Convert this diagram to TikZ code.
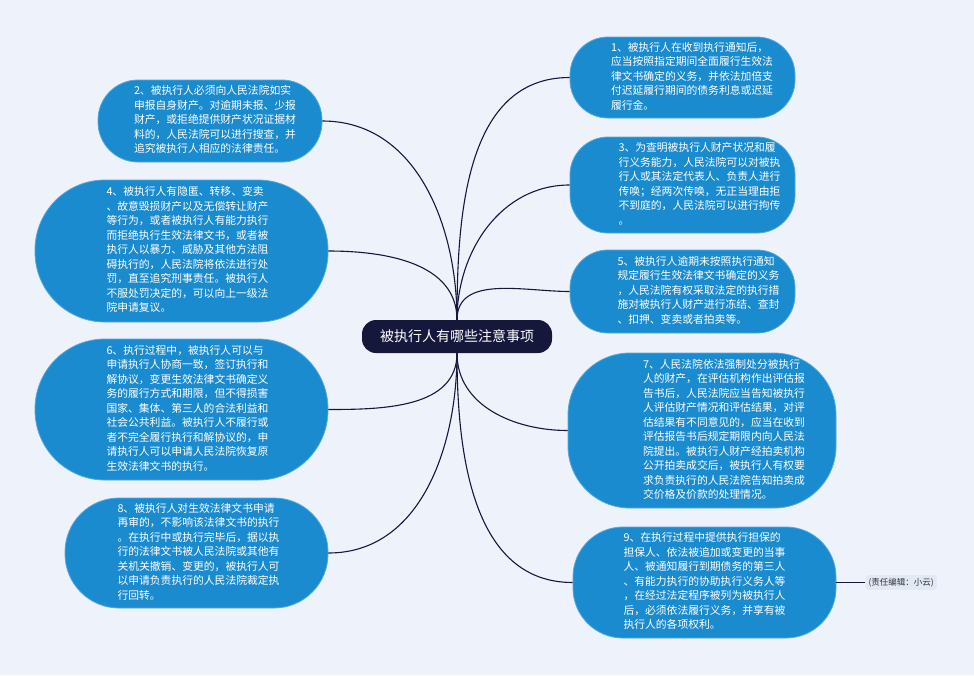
\documentclass[tikz,border=0pt]{standalone}
\usepackage{fontspec}
\setmainfont{Noto Sans CJK SC}
\usetikzlibrary{positioning}
\definecolor{bgblue}{HTML}{EEF3FB}
\definecolor{nodeblue}{HTML}{1B8BCF}
\definecolor{navy}{HTML}{15173B}
\definecolor{notebg}{HTML}{E2E9F5}
\newcommand{\ntext}[2][0pt]{\hspace*{#1}\begin{tabular}{@{}l@{}}#2\end{tabular}}

\begin{document}
\begin{tikzpicture}[x=1pt,y=-1pt,
      item/.style={draw=nodeblue!75!white, line width=0.8pt, fill=nodeblue, text=white,
        inner sep=0pt, font=\fontsize{10.8}{14.5}\selectfont},
      link/.style={draw=navy, line width=1.1pt}]
     \fill[bgblue] (0,0) rectangle (974,675);
     \node[fill=navy, text=white, rounded corners=14pt, minimum width=190pt, minimum height=33pt,
       font=\fontsize{14}{16}\selectfont] (hub) at (457,336.5) {被执行人有哪些注意事项};
     % left side
     \node[item, rounded corners=40pt, minimum width=224pt, minimum height=82pt] (duty2) at (210,121)
       {\ntext[10pt]{2、被执行人必须向人民法院如实\\申报自身财产。对逾期未报、少报\\财产，或拒绝提供财产状况证据材\\料的，人民法院可以进行搜查，并\\追究被执行人相应的法律责任。}};
     \node[item, rounded corners=70pt, minimum width=293pt, minimum height=142pt] (duty4) at (181.5,251)
       {\ntext[12pt]{4、被执行人有隐匿、转移、变卖\\、故意毁损财产以及无偿转让财产\\等行为，或者被执行人有能力执行\\而拒绝执行生效法律文书，或者被\\执行人以暴力、威胁及其他方法阻\\碍执行的，人民法院将依法进行处\\罚，直至追究刑事责任。被执行人\\不服处罚决定的，可以向上一级法\\院申请复议。}};
     \node[item, rounded corners=70pt, minimum width=293pt, minimum height=141pt] (duty6) at (181.5,409.5)
       {\ntext[12pt]{6、执行过程中，被执行人可以与\\申请执行人协商一致，签订执行和\\解协议，变更生效法律文书确定义\\务的履行方式和期限，但不得损害\\国家、集体、第三人的合法利益和\\社会公共利益。被执行人不履行或\\者不完全履行执行和解协议的，申\\请执行人可以申请人民法院恢复原\\生效法律文书的执行。}};
     \node[item, rounded corners=54pt, minimum width=263pt, minimum height=110pt] (duty8) at (196.5,553)
       {\ntext[4pt]{8、被执行人对生效法律文书申请\\再审的，不影响该法律文书的执行\\。在执行中或执行完毕后，据以执\\行的法律文书被人民法院或其他有\\关机关撤销、变更的，被执行人可\\以申请负责执行的人民法院裁定执\\行回转。}};
     % right side
     \node[item, rounded corners=38pt, minimum width=225pt, minimum height=81pt] (duty1) at (682.5,77.5)
       {\ntext[19pt]{1、被执行人在收到执行通知后，\\应当按照指定期间全面履行生效法\\律文书确定的义务，并依法加倍支\\付迟延履行期间的债务利息或迟延\\履行金。}};
     \node[item, rounded corners=38pt, minimum width=225pt, minimum height=96pt] (duty3) at (682.5,185)
       {\ntext[34pt]{3、为查明被执行人财产状况和履\\行义务能力，人民法院可以对被执\\行人或其法定代表人、负责人进行\\传唤；经两次传唤，无正当理由拒\\不到庭的，人民法院可以进行拘传\\。}};
     \node[item, rounded corners=38pt, minimum width=225pt, minimum height=83pt] (duty5) at (682.5,291.5)
       {\ntext[32pt]{5、被执行人逾期未按照执行通知\\规定履行生效法律文书确定的义务\\，人民法院有权采取法定的执行措\\施对被执行人财产进行冻结、查封\\、扣押、变卖或者拍卖等。}};
     \node[item, rounded corners=62pt, minimum width=268pt, minimum height=155pt] (duty7) at (702,430.5)
       {\ntext[44pt]{7、人民法院依法强制处分被执行\\人的财产，在评估机构作出评估报\\告书后，人民法院应当告知被执行\\人评估财产情况和评估结果，对评\\估结果有不同意见的，应当在收到\\评估报告书后规定期限内向人民法\\院提出。被执行人财产经拍卖机构\\公开拍卖成交后，被执行人有权要\\求负责执行的人民法院告知拍卖成\\交价格及价款的处理情况。}};
     \node[item, rounded corners=50pt, minimum width=263pt, minimum height=111pt] (duty9) at (704.5,582.5)
       {\ntext{9、在执行过程中提供执行担保的\\担保人、依法被追加或变更的当事\\人、被通知履行到期债务的第三人\\、有能力执行的协助执行义务人等\\，在经过法定程序被列为被执行人\\后，必须依法履行义务，并享有被\\执行人的各项权利。}};
     \node[fill=notebg, rounded corners=3pt, text=black!80, inner sep=3pt,
       font=\fontsize{8.5}{10}\selectfont, right = 29pt of duty9] (editor) {(责任编辑：小云)};
     % links
     \draw[link] (hub.north) to[out=90,in=0] (duty2.east);
     \draw[link] (hub.north) to[out=90,in=0] (duty4.east);
     \draw[link] (hub.south) to[out=-90,in=0] (duty6.east);
     \draw[link] (hub.south) to[out=-90,in=0] (duty8.east);
     \draw[link] (hub.north) to[out=90,in=180] (duty1.west);
     \draw[link] (hub.north) to[out=90,in=180] (duty3.west);
     \draw[link] (hub.north) to[out=90,in=180] (duty5.west);
     \draw[link] (hub.south) to[out=-90,in=180] (duty7.west);
     \draw[link] (hub.south) to[out=-90,in=180] (duty9.west);
     \draw[link] (duty9.east) -- (editor.west);
    \end{tikzpicture}
\end{document}
